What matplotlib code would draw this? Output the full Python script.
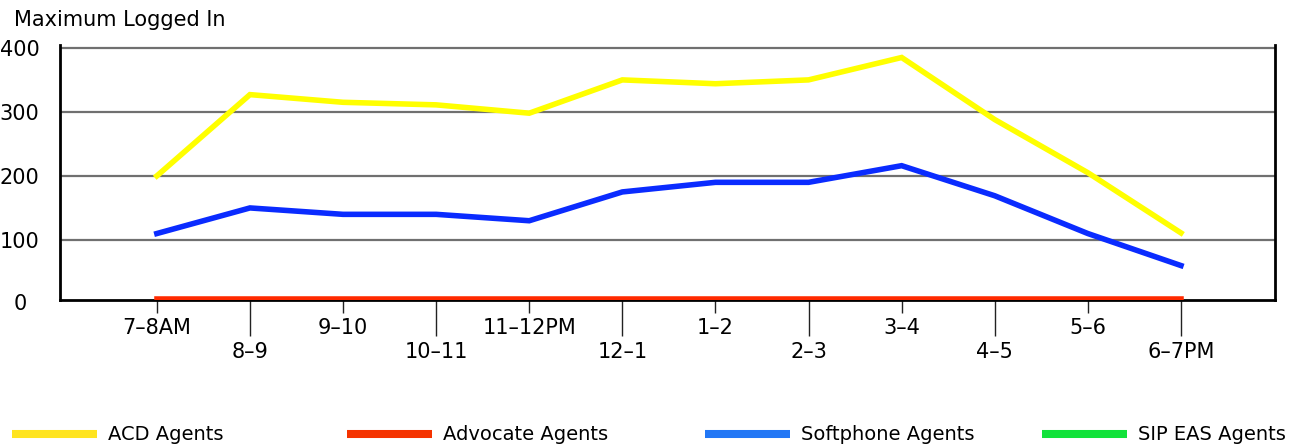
import matplotlib
matplotlib.use('Agg')
import matplotlib.pyplot as plt
from matplotlib.lines import Line2D

# hourly maximum of logged-in agents
hours = ['7–8AM', '8–9', '9–10', '10–11', '11–12PM', '12–1',
         '1–2', '2–3', '3–4', '4–5', '5–6', '6–7PM']
acd_agents = [200, 327, 315, 311, 298, 350, 344, 350, 385, 288, 205, 111]
advocate_agents = [8, 8, 8, 8, 8, 8, 8, 8, 8, 8, 8, 8]
softphone_agents = [110, 150, 140, 140, 130, 175, 190, 190, 216, 169, 110, 60]
sip_eas_agents = [0, 0, 0, 0, 0, 0, 0, 0, 0, 0, 0, 0]
y_ticks = [0, 100, 200, 300, 400]

series = [
    ('ACD Agents', acd_agents, '#ffff00', '#ffe41f'),
    ('Advocate Agents', advocate_agents, '#ff2a00', '#f53300'),
    ('Softphone Agents', softphone_agents, '#0a2bff', '#2277f5'),
    ('SIP EAS Agents', sip_eas_agents, '#11e23a', '#11e23a'),
]

plt.rcParams['font.family'] = 'DejaVu Sans'
FS = 15

fig = plt.figure(figsize=(12.97, 4.47), dpi=100)
ax = fig.add_axes([60 / 1297, 1 - 300 / 447, 1215 / 1297, 255 / 447])

x = list(range(len(hours)))
# back to front: SIP, Advocate, Softphone, ACD
for name, values, color, _ in [series[3], series[1], series[2], series[0]]:
    ax.plot(x, values, color=color, lw=4, solid_joinstyle='miter', zorder=3)

# y axis: centred labels, no tick marks, grey gridlines
ax.set_yticks(y_ticks[1:])
ax.set_yticklabels([str(v) for v in y_ticks[1:]], ha='center')
ax.tick_params(axis='y', length=0, pad=29, labelsize=FS)
ax.yaxis.grid(True, color='#707070', lw=1.6)
ax.set_axisbelow(True)
# the zero label sits just under the bottom edge of the plot area
ax.text(-40 / 1215, y_ticks[0], str(y_ticks[0]), transform=ax.get_yaxis_transform(),
        ha='center', va='center', fontsize=FS, clip_on=False)

# x axis: labels alternate between two rows
ax.set_xticks(x[0::2], hours[0::2])
ax.set_xticks(x[1::2], hours[1::2], minor=True)
ax.tick_params(axis='x', which='major', length=9.5, width=1, color='#222222',
               pad=3.5, labelsize=FS)
ax.tick_params(axis='x', which='minor', length=26, width=1, color='#222222',
               pad=4, labelsize=FS)

ax.set_xlim(-1.04, 12.01)
ax.set_ylim(6.2, 404.5)

for side in ['left', 'bottom', 'right']:
    ax.spines[side].set_linewidth(2)
    ax.spines[side].set_color('black')
ax.spines['top'].set_visible(False)

fig.text(14 / 1297, 1 - 26 / 447, 'Maximum Logged In', fontsize=FS,
         va='baseline', ha='left')

# legend entries along the bottom
legend_x = [12, 347, 705, 1042]
for (name, _, _, lcolor), lx in zip(series, legend_x):
    handle = Line2D([], [], color=lcolor, lw=5.8, solid_capstyle='butt')
    fig.legend([handle], [name], loc='center left',
               bbox_to_anchor=(lx / 1297, 1 - 435 / 447),
               frameon=False, borderpad=0, borderaxespad=0,
               handlelength=4.37, handletextpad=0.57,
               prop={'size': 14})

fig.savefig('out.png', dpi=100)
